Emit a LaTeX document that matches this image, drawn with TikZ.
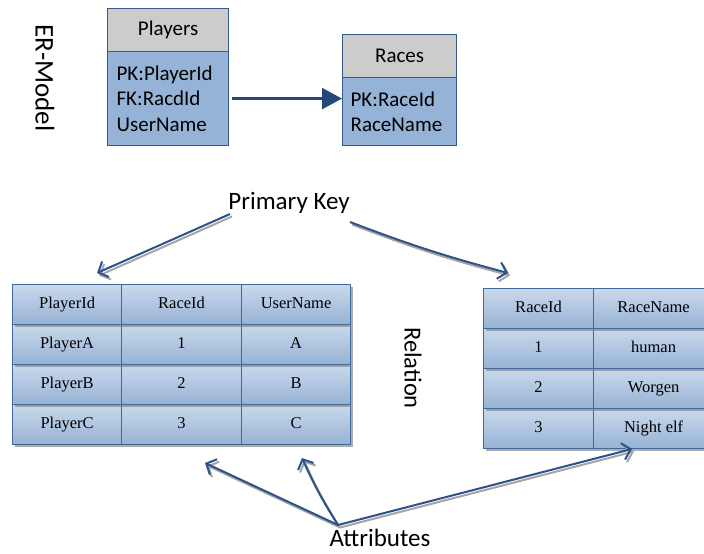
\documentclass[tikz,border=0pt]{standalone}
\usepackage{fontspec}
\setmainfont{Liberation Serif}
\newfontfamily\carlito{Carlito}
\usetikzlibrary{arrows.meta,shadows}

\definecolor{erblue}{RGB}{36,72,124}
\definecolor{boxline}{RGB}{50,90,140}
\definecolor{boxbody}{RGB}{149,179,215}
\definecolor{boxhead}{RGB}{204,204,204}
\definecolor{cellline}{RGB}{65,105,155}
\definecolor{celltop}{RGB}{202,217,236}
\definecolor{cellbot}{RGB}{150,178,212}
\definecolor{pointer}{RGB}{44,82,140}
\definecolor{pshadow}{RGB}{165,165,165}

\tikzset{
  x=1pt, y=1pt,
  enthead/.style={draw=boxline, line width=1.2pt, fill=boxhead, inner sep=0pt,
    font=\carlito\fontsize{21}{25.5}\selectfont},
  entbody/.style={draw=boxline, line width=1.2pt, fill=boxbody, inner sep=0pt,
    align=left, font=\carlito\fontsize{21}{25.5}\selectfont},
  cell/.style={draw=cellline, line width=1.2pt, top color=celltop, bottom color=cellbot,
    minimum height=40pt, anchor=north west, inner sep=0pt,
    text height=11.5pt, text depth=3.5pt,
    font=\fontsize{16.5}{18}\selectfont,
    drop shadow={shadow xshift=2pt, shadow yshift=-2.5pt, fill=gray, opacity=.65}},
  label/.style={font=\carlito\fontsize{25}{28}\selectfont, inner sep=0pt},
  sidelabel/.style={inner sep=0pt, rotate=-90},
  pointer/.style={draw=pointer, line width=2pt, -{Straight Barb[length=8pt,width=17pt]}},
  pointershadow/.style={draw=pshadow, line width=2pt, -{Straight Barb[length=8pt,width=17pt]},
    transform canvas={shift={(2pt,-2.5pt)}}},
}

\begin{document}
\begin{tikzpicture}
\useasboundingbox (0,0) rectangle (704,554);
\clip (0,0) rectangle (704,554);

% ---------- ER model ----------
\node[sidelabel, font=\carlito\fontsize{27}{30}\selectfont] (er) at (45,476) {ER-Model};

\node[enthead, minimum width=121pt, minimum height=43pt, anchor=north west] (ph) at (107,546) {Players};
\node[entbody, minimum width=121pt, minimum height=94pt, anchor=north west,
      text width=103pt] (pb) at (107,503) {PK:PlayerId\\FK:RacdId\\UserName};

\node[enthead, minimum width=114pt, minimum height=43pt, anchor=north west] (rh) at (342,520) {Races};
\node[entbody, minimum width=114pt, minimum height=68pt, anchor=north west,
      text width=98pt] (rb) at (342,477) {PK:RaceId\\RaceName};

\draw[erblue, line width=2.4pt, -{Triangle[length=20pt,width=21pt]}]
  ([xshift=3pt]pb.east) -- (pb.east -| rb.west);

% ---------- Relation: Players ----------
% rows are drawn bottom first so each row's shadow falls on the row below
\foreach \r/\y/\a/\b/\c in {4/150/PlayerC/3/C, 3/190/PlayerB/2/B, 2/230/PlayerA/1/A, 1/270/PlayerId/RaceId/UserName}{
  \node[cell, minimum width=109pt] (p\r1) at (12,\y) {\a};
  \node[cell, minimum width=120pt] (p\r2) at (121,\y) {\b};
  \node[cell, minimum width=109pt] (p\r3) at (241,\y) {\c};
}

% ---------- Relation: Races ----------
\foreach \r/\y/\a/\b in {4/146/3/Night elf, 3/186/2/Worgen, 2/226/1/human, 1/266/RaceId/RaceName}{
  \node[cell, minimum width=110pt] (r\r1) at (483,\y) {\a};
  \node[cell, minimum width=120pt] (r\r2) at (593,\y) {\b};
}

\node[sidelabel, font=\carlito\fontsize{24.5}{28}\selectfont] (rel) at (413,186) {Relation};

% ---------- Primary key pointers ----------
\node[label] (pk) at (289,351) {Primary Key};
\coordinate (pkL) at (230,340);
\coordinate (pkR) at (350,332);
\coordinate (pkLtip) at (97,281);
\coordinate (pkRtip) at (508,281);

\draw[pointershadow] (pkL) -- (pkLtip);
\draw[pointershadow] (pkR) to[bend right=3] (pkRtip);
\draw[pointer] (pkL) -- (pkLtip);
\draw[pointer] (pkR) to[bend right=3] (pkRtip);

% ---------- Attribute pointers ----------
\node[label] (att) at (380,16) {Attributes};
\coordinate (attO) at (338,29);
\coordinate (attA) at (205,91);
\coordinate (attB) at (302,96);
\coordinate (attC) at (632,105);

\draw[pointershadow] (attO) -- (attA);
\draw[pointershadow] (attO) to[bend left=4] (attB);
\draw[pointershadow] (attO) -- (attC);
\draw[pointer] (attO) -- (attA);
\draw[pointer] (attO) to[bend left=4] (attB);
\draw[pointer] (attO) -- (attC);
\end{tikzpicture}
\end{document}
